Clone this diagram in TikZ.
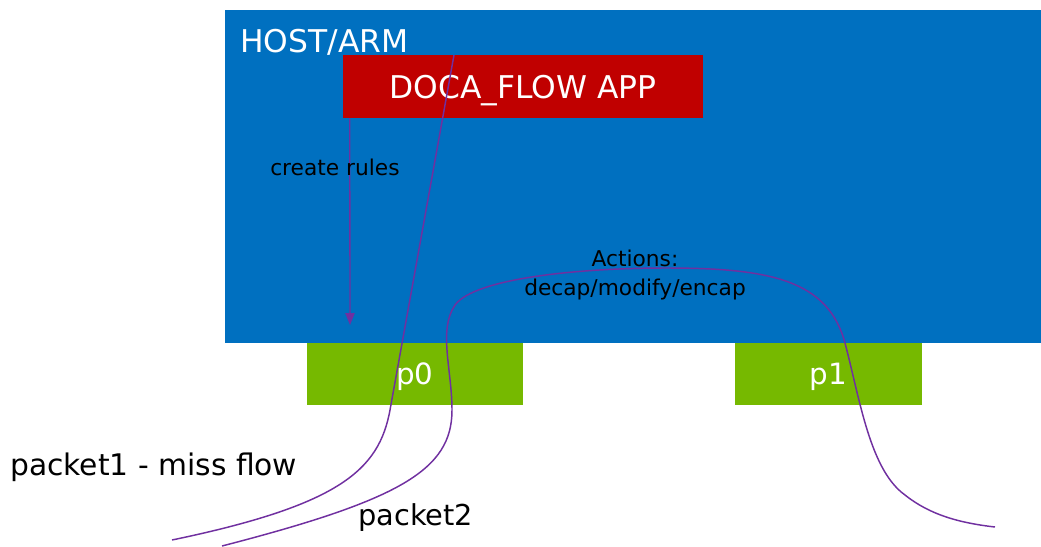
\documentclass[tikz,border=0pt]{standalone}
\usepackage{fontspec}
\setmainfont{DejaVu Sans}
\usetikzlibrary{arrows.meta}
\definecolor{hostblue}{HTML}{0070C0}
\definecolor{appred}{HTML}{C00000}
\definecolor{portgreen}{HTML}{76B900}
\definecolor{flowpurple}{HTML}{7030A0}
\tikzset{
  box/.style={draw=none, inner sep=0pt, text depth=0pt},
  flow/.style={flowpurple, line width=1.1pt},
  txt/.style={inner sep=0pt, anchor=base west},
}
\begin{document}
\begin{tikzpicture}[x=0.75pt, y=-0.75pt]
      \useasboundingbox (0,0) rectangle (1041,546);
      \node[box, fill=hostblue, minimum width=612pt, minimum height=249.75pt] (host) at (633,176.5) {};
      \node[txt, text=white, font=\fontsize{23.5}{28}\selectfont] (hostname) at (240,52) {HOST/ARM};
      \node[box, fill=appred, text=white, minimum width=270pt, minimum height=47.25pt,
            font=\fontsize{23.5}{28}\selectfont] (app) at (523,86.5) {DOCA\_FLOW APP};
      \foreach \name/\x/\w in {p0/415/162pt, p1/828.5/140.25pt} {
        \node[box, fill=portgreen, text=white, minimum width=\w, minimum height=46.5pt,
              font=\fontsize{22}{26}\selectfont] (\name) at (\x,374) {\name};
      }
      % rules from the app down to p0
      \coordinate (rulesend) at (350,325);
      \draw[flow, line width=1pt, -{Triangle[length=9pt,width=7pt]}] ([xshift=5.25pt]app.south west) -- (rulesend);
      \node[txt, font=\fontsize{16.3}{19}\selectfont] (rules) at (270,175) {create rules};
      % packet paths
      \coordinate (in1) at (172,540);
      \coordinate (hit) at (454,55);
      \coordinate (in2) at (222,546);
      \coordinate (out2) at (995,527);
      \draw[flow] (in1) .. controls (340,505) and (379,470) .. (390,410) -- (hit);
      \draw[flow] (in2) .. controls (400,500) and (452,470) .. (452,410)
        .. controls (452,370) and (438,330) .. (455,305)
        .. controls (475,278) and (580,268) .. (666,268)
        .. controls (770,268) and (828,280) .. (845,343)
        .. controls (860,400) and (870,470) .. (905,495)
        .. controls (930,515) and (960,523) .. (out2);
      \node[inner sep=0pt, align=center, font=\fontsize{16.3}{21}\selectfont] (actions) at (635,275) {Actions:\\decap/modify/encap};
      \node[txt, font=\fontsize{22.3}{26}\selectfont] (miss) at (10,475) {packet1 - miss flow};
      \node[txt, font=\fontsize{21.6}{26}\selectfont] (second) at (358,525) {packet2};
\end{tikzpicture}
\end{document}
